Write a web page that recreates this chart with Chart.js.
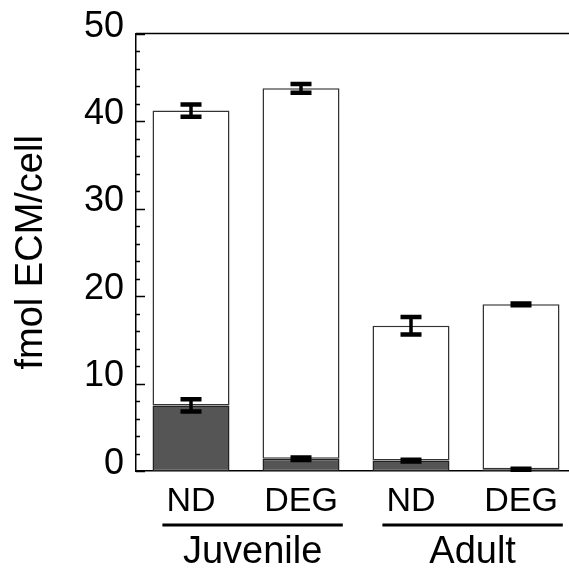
<!DOCTYPE html>
<html>
<head>
<meta charset="utf-8">
<script src="https://cdn.jsdelivr.net/npm/chart.js@4"></script>
<style>
  html, body { margin: 0; padding: 0; background: #fff; overflow: hidden; }
  #wrap { width: 580px; height: 569px; }
</style>
</head>
<body>
<div id="wrap"><canvas id="grafico"></canvas></div>
<script>
// values
var categories = ['ND', 'DEG', 'ND', 'DEG'];
var groups = ['Juvenile', 'Adult'];
var darkVals = [7.5, 1.4, 1.2, 0.2];
var darkErr = [0.7, 0.15, 0.1, 0.05];
var totalVals = [41.2, 43.75, 16.6, 19.05];
var totalErr = [0.7, 0.5, 1.0, 0.1];
var yTicks = [0, 10, 20, 30, 40, 50];

var FONT = 'Liberation Sans, Arial, sans-serif';

var errorBars = {
  id: 'errorBars',
  afterDatasetsDraw: function(chart) {
    var ctx = chart.ctx, xs = chart.scales.x, ys = chart.scales.y;
    ctx.save();
    ctx.strokeStyle = '#000';
    function one(x, v, e) {
      var y1 = ys.getPixelForValue(v + e), y2 = ys.getPixelForValue(v - e);
      ctx.lineWidth = 3.5;
      ctx.beginPath(); ctx.moveTo(x, y1); ctx.lineTo(x, y2); ctx.stroke();
      ctx.lineWidth = 4.5;
      ctx.beginPath();
      ctx.moveTo(x - 10.5, y1); ctx.lineTo(x + 10.5, y1);
      ctx.moveTo(x - 10.5, y2); ctx.lineTo(x + 10.5, y2);
      ctx.stroke();
    }
    categories.forEach(function(c, i) {
      var x = xs.getPixelForValue(i);
      one(x, totalVals[i], totalErr[i]);
      one(x, darkVals[i], darkErr[i]);
    });
    ctx.restore();
  }
};

var frame = {
  id: 'frame',
  afterDraw: function(chart) {
    var ctx = chart.ctx, a = chart.chartArea, ys = chart.scales.y, xs = chart.scales.x;
    ctx.save();
    ctx.strokeStyle = '#000';
    ctx.lineWidth = 1.5;
    // top border
    ctx.beginPath(); ctx.moveTo(a.left, a.top); ctx.lineTo(a.right, a.top); ctx.stroke();
    // inward ticks, minor every 2
    ctx.beginPath();
    for (var v = 0; v <= 50; v += 2) {
      var y = Math.round(ys.getPixelForValue(v)) + 0.5;
      var len = (v % 10 === 0) ? 9 : 4;
      ctx.moveTo(a.left, y); ctx.lineTo(a.left + len, y);
    }
    ctx.stroke();
    // group lines and labels
    var w = xs.getPixelForValue(1) - xs.getPixelForValue(0);
    ctx.fillStyle = '#000';
    ctx.font = '38px ' + FONT;
    ctx.textAlign = 'center';
    ctx.textBaseline = 'alphabetic';
    groups.forEach(function(g, k) {
      var x0 = xs.getPixelForValue(2 * k) - 0.26 * w;
      var x1 = xs.getPixelForValue(2 * k + 1) + 0.38 * w;
      ctx.lineWidth = 3;
      ctx.beginPath(); ctx.moveTo(x0, 525); ctx.lineTo(x1, 525); ctx.stroke();
      ctx.fillText(g, (x0 + x1) / 2, 563);
    });
    ctx.restore();
  }
};

var ctx = document.getElementById('grafico').getContext('2d');
var chart = new Chart(ctx, {
  type: 'bar',
  data: {
    labels: categories,
    datasets: [{
      data: categories.map(function(c, i) { return [darkVals[i], totalVals[i]]; }),
      backgroundColor: '#ffffff',
      borderColor: '#333333',
      borderWidth: 1.5,
      borderSkipped: false
    }, {
      data: categories.map(function(c, i) { return [0, darkVals[i]]; }),
      backgroundColor: '#555555',
      borderColor: '#222222',
      borderWidth: 1.5,
      borderSkipped: false
    }]
  },
  options: {
    responsive: true,
    maintainAspectRatio: false,
    animation: false,
    layout: { padding: { left: 0, right: 4, top: 31, bottom: 0 } },
    plugins: { legend: { display: false }, tooltip: { enabled: false } },
    datasets: { bar: { barPercentage: 0.7, categoryPercentage: 1.0, grouped: false } },
    scales: {
      x: {
        grid: { display: false, drawTicks: false },
        border: { display: true, color: '#000', width: 1.5 },
        ticks: { color: '#000', font: { family: FONT, size: 34 }, padding: 10, maxRotation: 0 },
        afterFit: function(s) { s.height = 98; }
      },
      y: {
        min: 0, max: 50,
        afterBuildTicks: function(s) { s.ticks = yTicks.map(function(v) { return { value: v }; }); },
        grid: { display: false, drawTicks: false },
        border: { display: true, color: '#000', width: 1.5 },
        ticks: { color: '#000', font: { family: FONT, size: 36 }, padding: 12, labelOffset: -7 },
        title: { display: true, text: 'fmol ECM/cell', color: '#000', font: { family: FONT, size: 38 }, padding: { top: 9, bottom: 0 } },
        afterFit: function(s) { s.width = 136; }
      }
    }
  },
  plugins: [errorBars, frame]
});
</script>
</body>
</html>
